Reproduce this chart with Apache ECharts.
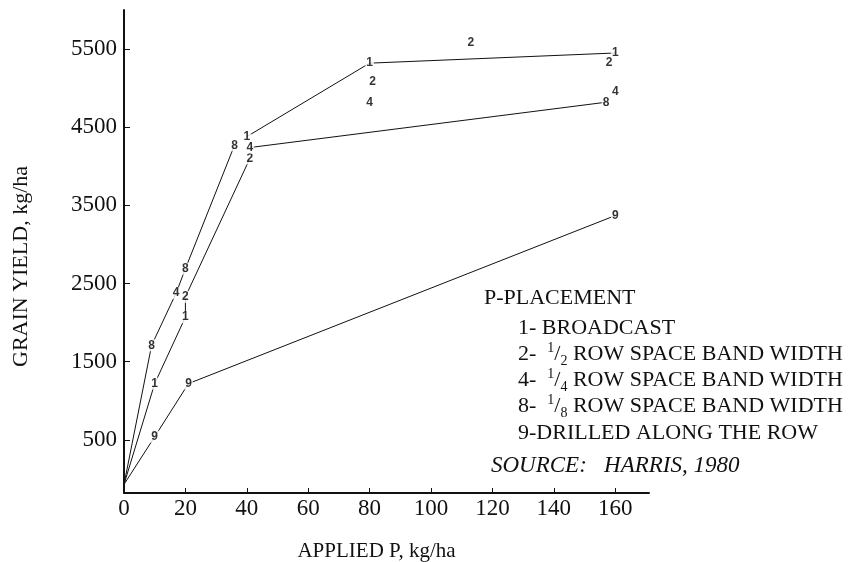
<!DOCTYPE html>
<html>
<head>
<meta charset="utf-8">
<script src="https://cdn.jsdelivr.net/npm/echarts@6/dist/echarts.min.js"></script>
<style>
html,body{margin:0;padding:0;background:#fff;}
#chart{width:851px;height:562px;}
</style>
</head>
<body>
<div id="chart"></div>
<script>
// ---- data ----
const xTicks = [0, 20, 40, 60, 80, 100, 120, 140, 160];
const yTicks = [500, 1500, 2500, 3500, 4500, 5500];
const origin = [0, -70];

const broadcastX = [10, 20, 40, 80, 160];
const broadcastY = [1220, 2070, 4380, 5320, 5450];
const halfX = [20, 41, 81, 113, 158];
const halfY = [2330, 4100, 5080, 5580, 5330];
const quarterX = [17, 41, 80, 160];
const quarterY = [2380, 4240, 4820, 4950];
const eighthX = [9, 20, 36, 157];
const eighthY = [1710, 2690, 4270, 4820];
const drilledX = [10, 21, 160];
const drilledY = [540, 1220, 3370];

const legendLines = [
  'P-PLACEMENT',
  '1- BROADCAST',
  '2-  {sup|1}{sl|/}{sub|2} ROW SPACE BAND WIDTH',
  '4-  {sup|1}{sl|/}{sub|4} ROW SPACE BAND WIDTH',
  '8-  {sup|1}{sl|/}{sub|8} ROW SPACE BAND WIDTH',
  '9-DRILLED ALONG THE ROW'
];
const sourceText = 'SOURCE:   HARRIS, 1980';

// ---- helpers ----
const pts = (xs, ys) => xs.map((x, i) => [x, ys[i]]);
const P1 = pts(broadcastX, broadcastY);
const P2 = pts(halfX, halfY);
const P4 = pts(quarterX, quarterY);
const P8 = pts(eighthX, eighthY);
const P9 = pts(drilledX, drilledY);

// polylines as drawn in the reference
const paths = [
  [origin, P8[0], P4[0], P8[1], P8[2]],
  [origin, P1[0], P1[1], P2[0], P2[1]],
  [P1[2], P1[3], P1[4]],
  [P4[1], P8[3]],
  [origin, P9[0], P9[1], P9[2]]
];

const serif = 'Liberation Serif';
const ink = '#111';

const lineSeries = paths.map(p => ({
  type: 'line', data: p, symbol: 'none', silent: true,
  lineStyle: {color: ink, width: 1}, z: 2
}));

function markSeries(points, digit) {
  return {
    type: 'scatter', data: points, symbolSize: 1, silent: true,
    itemStyle: {color: 'rgba(0,0,0,0)'},
    label: {show: true, position: 'inside', formatter: digit,
      fontFamily: 'Liberation Sans', fontSize: 12, fontWeight: 'bold', color: '#000',
      backgroundColor: '#fff', padding: [0, 1]},
    z: 5
  };
}

const FS = 22;
const rich = {
  sup: {fontFamily: serif, fontSize: 14, color: ink, verticalAlign: 'top', lineHeight: 27},
  sl: {fontFamily: serif, fontSize: FS, color: ink, lineHeight: 27},
  sub: {fontFamily: serif, fontSize: 14, color: ink, verticalAlign: 'bottom', lineHeight: 27}
};
const legendY = [298, 328, 354, 380, 406, 433];
const legendX = [484, 518, 518, 518, 518, 518];
const graphics = legendLines.map((t, i) => ({
  type: 'text', left: legendX[i], top: legendY[i] - 13,
  style: {text: t, fontFamily: serif, fontSize: FS, fill: ink, lineHeight: 27, rich: rich}
}));
graphics.push({
  type: 'text', left: 491, top: 454,
  style: {text: sourceText, fontFamily: serif, fontStyle: 'italic', fontSize: 23, fill: ink}
});

const chart = echarts.init(document.getElementById('chart'), null, {renderer: 'canvas'});
chart.setOption({
  backgroundColor: '#fff',
  animation: false,
  grid: {left: 124, right: 202, top: 10, bottom: 69, containLabel: false, outerBoundsMode: 'none'},
  xAxis: {
    type: 'value', min: 0, max: 171, interval: 20,
    name: 'APPLIED P, kg/ha', nameLocation: 'middle', nameGap: 48,
    nameTextStyle: {fontFamily: serif, fontSize: 21, color: ink, padding: [0, 0, 0, -20]},
    axisLine: {show: true, onZero: false, lineStyle: {color: ink, width: 2}},
    axisTick: {show: true, inside: true, length: 5, lineStyle: {color: ink, width: 1},
      customValues: xTicks},
    axisLabel: {fontFamily: serif, fontSize: 23, color: ink, margin: 4, customValues: xTicks},
    splitLine: {show: false}
  },
  yAxis: {
    type: 'value', min: -180, max: 6000,
    name: 'GRAIN YIELD, kg/ha', nameLocation: 'middle', nameGap: 92, nameRotate: 90,
    nameTextStyle: {fontFamily: serif, fontSize: 22, color: ink, padding: [0, 0, 0, -30]},
    axisLine: {show: true, onZero: false, lineStyle: {color: ink, width: 2}},
    axisTick: {show: true, inside: true, length: 6, lineStyle: {color: ink, width: 1},
      customValues: yTicks},
    axisLabel: {fontFamily: serif, fontSize: 23, color: ink, margin: 7, customValues: yTicks,
      formatter: v => String(v)},
    splitLine: {show: false}
  },
  graphic: graphics,
  series: lineSeries.concat([
    markSeries(P1, '1'), markSeries(P2, '2'), markSeries(P4, '4'),
    markSeries(P8, '8'), markSeries(P9, '9')
  ])
});
</script>
</body>
</html>
